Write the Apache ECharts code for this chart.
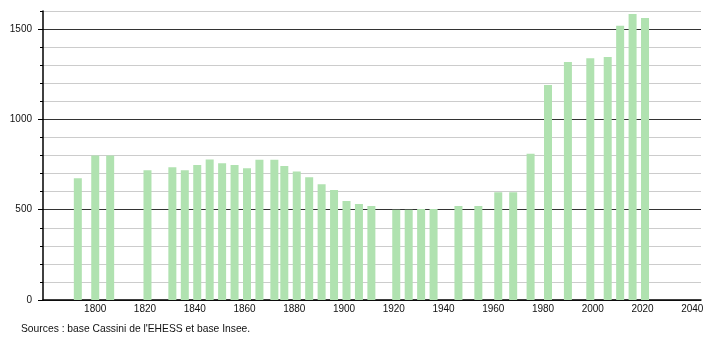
<!DOCTYPE html>
<html>
<head>
<meta charset="utf-8">
<script src="https://cdn.jsdelivr.net/npm/echarts@6/dist/echarts.min.js"></script>
<style>
html,body{margin:0;padding:0;background:#fff;}
#chart{width:710px;height:340px;}
</style>
</head>
<body>
<div id="chart"></div>
<script>
var years = [1793,1800,1806,1821,1831,1836,1841,1846,1851,1856,1861,1866,1872,1876,1881,1886,1891,1896,1901,1906,1911,1921,1926,1931,1936,1946,1954,1962,1968,1975,1982,1990,1999,2006,2011,2016,2021];
var population = [674,800,800,718,735,718,748,778,757,748,730,776,776,742,711,680,641,609,548,532,521,499,499,504,504,521,521,597,597,809,1191,1317,1339,1345,1518,1583,1561];
var xTickLabels = [1800,1820,1840,1860,1880,1900,1920,1940,1960,1980,2000,2020,2040];
var yTickLabels = [0,500,1000,1500];
var sourceText = "Sources : base Cassini de l'EHESS et base Insee.";

var data = years.map(function(y,i){return [y, population[i]];});
var chart = echarts.init(document.getElementById('chart'), null, {renderer:'canvas'});
var font = 'Liberation Sans, Arial, sans-serif';
chart.setOption({
  animation:false,
  grid:{left:43,right:9,top:11,bottom:40,containLabel:false},
  graphic:[{type:'text',left:21,top:324,style:{text:sourceText,font:'10.3px Liberation Sans, Arial, sans-serif',fill:'#111'}}],
  xAxis:{
    type:'value',min:1779,max:2043.5,
    axisLine:{show:true,lineStyle:{color:'#000',width:1.5}},
    axisTick:{show:false},
    splitLine:{show:false},
    axisLabel:{customValues:xTickLabels,color:'#111',fontSize:10,fontFamily:font,margin:4,formatter:function(v){return String(v);}}
  },
  yAxis:[{
    type:'value',min:0,max:1600,interval:100,
    axisLine:{show:true,lineStyle:{color:'#000',width:1.5}},
    axisTick:{show:true,length:3,lineStyle:{color:'#000'}},
    splitLine:{show:true,lineStyle:{color:['#333','#ccc','#ccc','#ccc','#ccc'],width:1}},
    axisLabel:{customValues:yTickLabels,color:'#111',fontSize:10,fontFamily:font,margin:11,formatter:function(v){return String(v);}}
  },{
    type:'value',min:0,max:1600,position:'left',
    axisLine:{show:false},
    axisTick:{show:true,length:5,customValues:yTickLabels,lineStyle:{color:'#000'}},
    splitLine:{show:false},
    axisLabel:{show:false}
  }],
  series:[{
    type:'bar',data:data,barWidth:8,
    itemStyle:{color:'#b0e2b0'}
  }]
});
</script>
</body>
</html>
